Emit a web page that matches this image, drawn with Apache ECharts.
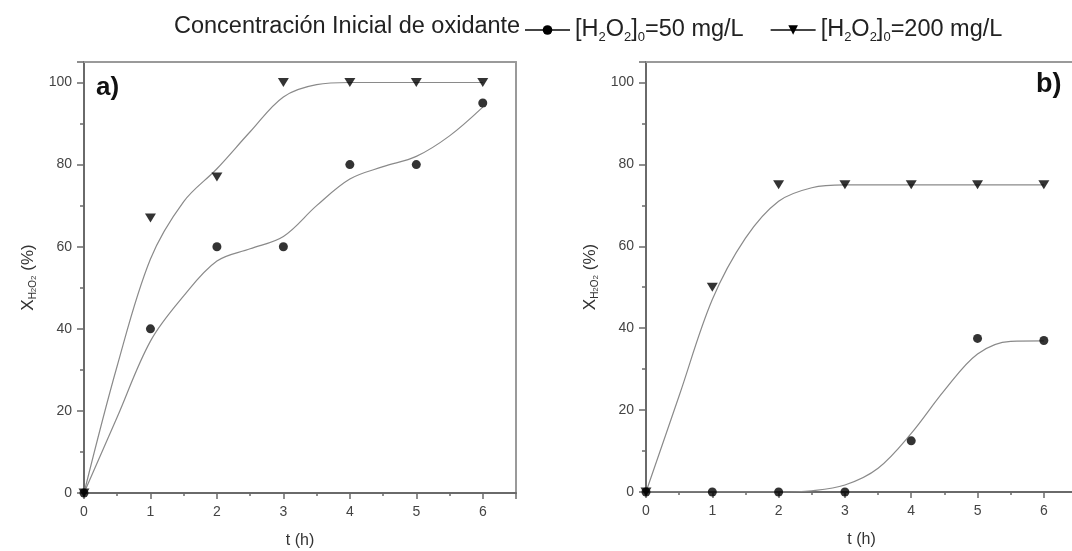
<!DOCTYPE html>
<html>
<head>
<meta charset="utf-8">
<script src="https://cdn.jsdelivr.net/npm/echarts@6/dist/echarts.min.js"></script>
<style>
  html, body { margin: 0; padding: 0; background: #fff; }
  #chart { width: 1072px; height: 551px; }
</style>
</head>
<body>
<div id="chart"></div>
<script>
// measured points
const hours = [0, 1, 2, 3, 4, 5, 6]
const a50 = [0, 40, 60, 60, 80, 80, 95]
const a200 = [0, 67, 77, 100, 100, 100, 100]
const b50 = [0, 0, 0, 0, 12.5, 37.5, 37]
const b200 = [0, 50, 75, 75, 75, 75, 75]

// fitted curves, every half hour
const fitHours = [0, 0.5, 1, 1.5, 2, 2.5, 3, 3.5, 4, 4.5, 5, 5.5, 6]
const fitA50 = [0, 18.5, 37, 48, 56.5, 59.5, 62.5, 70, 76.5, 79.5, 82, 87, 94]
const fitA200 = [0, 31, 57, 71, 79, 88, 96.5, 99.5, 100, 100, 100, 100, 100]
const fitB50 = [0, 0, 0, 0, 0, 0.3, 1.7, 5.8, 14.3, 24.8, 33.7, 36.8, 36.9]
const fitB200 = [0, 23.5, 47, 62, 71, 74.3, 75, 75, 75, 75, 75, 75, 75]

const DOWN_TRI = 'path://M0,0 L10,0 L5,9 Z'
const AXIS_COLOR = '#6a6a6a'
const FRAME_COLOR = '#9a9a9a'
const CURVE_COLOR = '#8a8a8a'
const FONT = 'Liberation Sans, Arial, sans-serif'
const NARROW = 'Liberation Sans Narrow, Arial Narrow, Liberation Sans, sans-serif'

const pairs = (xs, ys) => xs.map((x, i) => [x, ys[i]])

const chart = echarts.init(document.getElementById('chart'))

const xAxisBase = (gridIndex) => ({
  type: 'value', gridIndex, min: 0, max: 6.5, interval: 1,
  name: 't (h)', nameLocation: 'middle', nameGap: 40,
  nameTextStyle: { fontSize: 16, color: '#333', fontFamily: FONT },
  axisLine: { onZero: false, lineStyle: { color: AXIS_COLOR, width: 2 } },
  axisTick: { length: 6, lineStyle: { color: AXIS_COLOR, width: 1.5 } },
  minorTick: { show: true, splitNumber: 2, length: 3, lineStyle: { color: AXIS_COLOR, width: 1.5 } },
  axisLabel: { showMaxLabel: false, margin: 12, fontSize: 14, color: '#444', fontFamily: FONT },
  splitLine: { show: false }
})

const yAxisBase = (gridIndex) => ({
  type: 'value', gridIndex, min: 0, max: 105, interval: 20,
  name: 'X{s|H}{ss|2}{s|O}{ss|2} (%)', nameLocation: 'middle', nameGap: 46,
  nameTextStyle: {
    fontSize: 17, color: '#333', fontFamily: FONT,
    rich: {
      s: { fontSize: 10, color: '#333', verticalAlign: 'bottom', lineHeight: 20 },
      ss: { fontSize: 8, color: '#333', verticalAlign: 'bottom', lineHeight: 18 }
    }
  },
  axisLine: { onZero: false, lineStyle: { color: AXIS_COLOR, width: 2 } },
  axisTick: { length: 7, lineStyle: { color: AXIS_COLOR, width: 1.5 } },
  minorTick: { show: true, splitNumber: 2, length: 4, lineStyle: { color: AXIS_COLOR, width: 1.5 } },
  axisLabel: { showMaxLabel: false, margin: 12, fontSize: 14, color: '#444', fontFamily: FONT },
  splitLine: { show: false }
})

// top and right edges of the box
const frameX = (gridIndex) => ({
  type: 'value', gridIndex, position: 'top', min: 0, max: 6.5,
  axisLine: { show: true, onZero: false, lineStyle: { color: FRAME_COLOR, width: 2 } },
  axisTick: { show: false }, axisLabel: { show: false }, splitLine: { show: false }
})

const frameY = (gridIndex) => ({
  type: 'value', gridIndex, position: 'right', min: 0, max: 105,
  axisLine: { show: true, onZero: false, lineStyle: { color: FRAME_COLOR, width: 2 } },
  axisTick: { show: false }, axisLabel: { show: false }, splitLine: { show: false }
})

const curve = (name, xi, yi, data, symbol, size) => ({
  type: 'line', name, xAxisIndex: xi, yAxisIndex: yi,
  data, smooth: 0.35, showSymbol: false, symbol, symbolSize: size,
  itemStyle: { color: '#000' },
  lineStyle: { color: CURVE_COLOR, width: 1.2 },
  silent: true, z: 2
})

const points = (xi, yi, data, symbol, size) => ({
  type: 'scatter', xAxisIndex: xi, yAxisIndex: yi,
  data, symbol, symbolSize: size,
  itemStyle: { color: '#000' }, z: 3
})

const legendText = (name) => '[H{s|2}O{s|2}]{s|0}=' + name + ' mg/L'

chart.setOption({
  backgroundColor: '#fff',
  animation: false,
  grid: [
    { left: 84, top: 62, width: 432, height: 431, outerBoundsMode: 'none' },
    { left: 646, top: 62, width: 431, height: 430, outerBoundsMode: 'none' }
  ],
  xAxis: [xAxisBase(0), xAxisBase(1), frameX(0), frameX(1)],
  yAxis: [yAxisBase(0), yAxisBase(1), frameY(0), frameY(1)],
  legend: {
    data: ['50', '200'],
    left: 519, top: 13,
    itemWidth: 45, itemHeight: 12, itemGap: 26,
    formatter: legendText,
    lineStyle: { color: '#444' },
    textStyle: {
      fontSize: 23.5, color: '#222', fontFamily: NARROW,
      rich: { s: { fontSize: 13, color: '#222', fontFamily: NARROW, verticalAlign: 'bottom', lineHeight: 28 } }
    }
  },
  graphic: [
    { type: 'text', left: 174, top: 15,
      style: { text: 'Concentración Inicial de oxidante', fontSize: 23.5, fill: '#222', fontFamily: NARROW } },
    { type: 'text', left: 96, top: 75,
      style: { text: 'a)', fontSize: 26, fontWeight: 'bold', fill: '#111', fontFamily: FONT } },
    { type: 'text', left: 1036, top: 71,
      style: { text: 'b)', fontSize: 27, fontWeight: 'bold', fill: '#111', fontFamily: FONT } }
  ],
  series: [
    curve('50', 0, 0, pairs(fitHours, fitA50), 'circle', 10),
    curve('200', 0, 0, pairs(fitHours, fitA200), DOWN_TRI, 11),
    curve('50', 1, 1, pairs(fitHours, fitB50), 'circle', 10),
    curve('200', 1, 1, pairs(fitHours, fitB200), DOWN_TRI, 11),
    points(0, 0, pairs(hours, a50), 'circle', 9),
    points(0, 0, pairs(hours, a200), DOWN_TRI, [11, 9]),
    points(1, 1, pairs(hours, b50), 'circle', 9),
    points(1, 1, pairs(hours, b200), DOWN_TRI, [11, 9])
  ]
})

window.addEventListener('resize', () => chart.resize())
</script>
</body>
</html>
